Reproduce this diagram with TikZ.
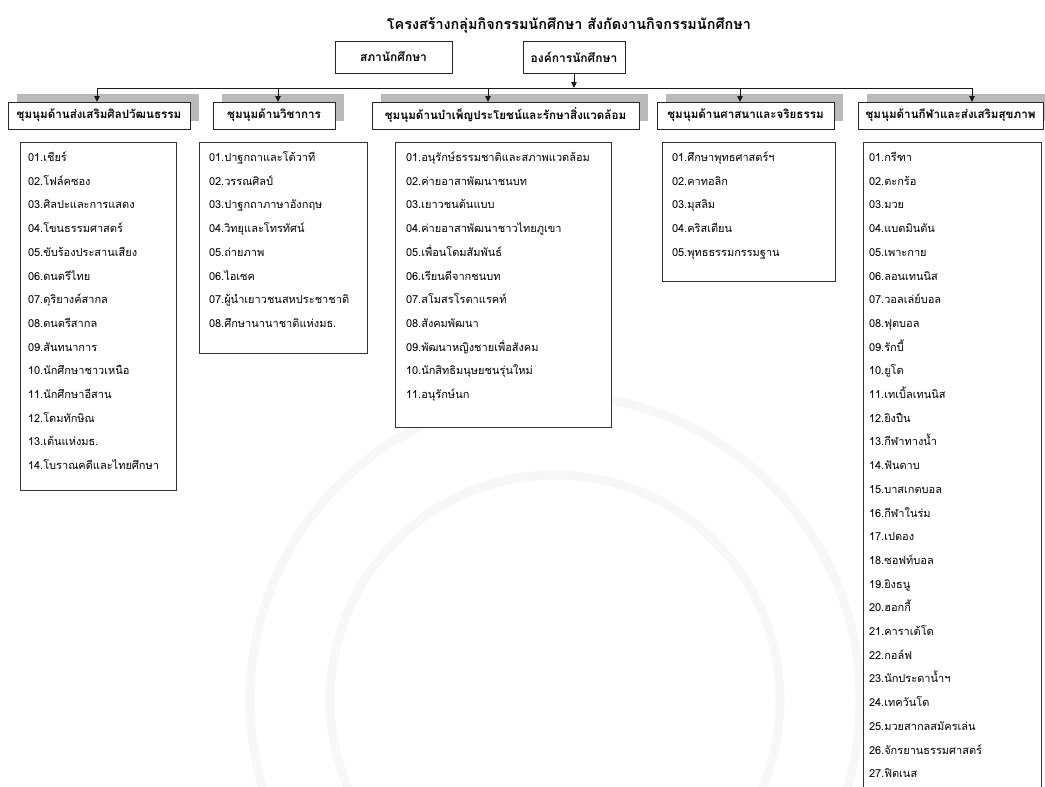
\documentclass[tikz,border=0pt]{standalone}
\usepackage{fontspec}
\newfontfamily\thai[Script=Thai]{Loma}
\usetikzlibrary{arrows.meta,shadows}

\begin{document}
\begin{tikzpicture}[x=1pt,y=-1pt,
  font=\thai,
  every node/.style={inner sep=0pt, outer sep=0pt},
  topbox/.style={draw=black!85, line width=0.8pt, fill=white,
    minimum height=32pt, font=\thai\bfseries\fontsize{12}{14}\selectfont},
  headbox/.style={draw=black!85, line width=0.8pt, fill=white,
    minimum height=27pt, font=\thai\bfseries\fontsize{11.6}{13}\selectfont,
    general shadow={fill=black!27, shadow xshift=9pt, shadow yshift=8pt}},
  listbox/.style={draw=black!80, line width=0.8pt, anchor=north west},
  item/.style={anchor=base west, font=\thai\fontsize{11}{13}\selectfont, text=black},
  link/.style={line width=0.8pt, draw=black!90},
  tip/.style={link, -{Triangle[length=6pt,width=5.5pt]}},
  seal/.style={draw=black!3, line width=9pt}
]
\useasboundingbox (0,0) rectangle (1045,787);
\clip (0,0) rectangle (1045,787);

% faint background seal
\draw[seal] (555,700) circle[radius=305];
\draw[seal] (555,700) circle[radius=225];

% title
\node (title) at (569,25) {\bfseries\fontsize{14.4}{17}\selectfont โครงสร้างกลุ่มกิจกรรมนักศึกษา สังกัดงานกิจกรรมนักศึกษา};

% council and student organisation
\node[topbox, minimum width=117pt] (sapa) at (393.5,57) {สภานักศึกษา};
\node[topbox, minimum width=102pt] (org) at (574,57) {องค์การนักศึกษา};

% club group headers
\node[headbox, minimum width=182pt] (h1) at (99,115.5) {ชุมนุมด้านส่งเสริมศิลปวัฒนธรรม};
\node[headbox, minimum width=122pt] (h2) at (274,115.5) {ชุมนุมด้านวิชาการ};
\node[headbox, minimum width=267pt] (h3) at (505.5,115.5) {ชุมนุมด้านบำเพ็ญประโยชน์และรักษาสิ่งแวดล้อม};
\node[headbox, minimum width=177pt] (h4) at (745.5,115.5) {ชุมนุมด้านศาสนาและจริยธรรม};
\node[headbox, minimum width=185pt] (h5) at (950.5,115.5) {ชุมนุมด้านกีฬาและส่งเสริมสุขภาพ};

% distribution bus
\coordinate (b1) at (97,88);
\coordinate (b2) at (278,88);
\coordinate (b3) at (488,88);
\coordinate (b4) at (740,88);
\coordinate (b5) at (972,88);
\draw[link] (b1) -- (b5);
\draw[tip] (org.south) -- (org.south |- b1);
\foreach \i in {1,...,5} \draw[tip] (b\i) -- (b\i |- h\i.north);

% club lists
\node[listbox, fill=white, minimum width=156pt, minimum height=348pt] (l1) at (20,142) {};
\node[listbox, fill=white, minimum width=168pt, minimum height=211pt] (l2) at (199,142) {};
\node[listbox, fill=white, minimum width=216pt, minimum height=285pt] (l3) at (395,142) {};
\node[listbox, fill=white, minimum width=173pt, minimum height=139pt] (l4) at (662,142) {};
\node[listbox, fill=white, minimum width=178pt, minimum height=700pt] (l5) at (863,142) {};

\foreach [count=\n] \t in {01.เชียร์, 02.โฟล์คซอง, 03.ศิลปะและการแสดง, 04.โขนธรรมศาสตร์,
  05.ขับร้องประสานเสียง, 06.ดนตรีไทย, 07.ดุริยางค์สากล, 08.ดนตรีสากล, 09.สันทนาการ,
  10.นักศึกษาชาวเหนือ, 11.นักศึกษาอีสาน, 12.โดมทักษิณ, 13.เต้นแห่งมธ., 14.โบราณคดีและไทยศึกษา}
  \node[item] (a\n) at ([xshift=8pt, yshift={-19.5pt-23.7pt*(\n-1)}]l1.north west) {\t};

\foreach [count=\n] \t in {01.ปาฐกถาและโต้วาที, 02.วรรณศิลป์, 03.ปาฐกถาภาษาอังกฤษ,
  04.วิทยุและโทรทัศน์, 05.ถ่ายภาพ, 06.ไอเซค, 07.ผู้นำเยาวชนสหประชาชาติ, 08.ศึกษานานาชาติแห่งมธ.}
  \node[item] (c\n) at ([xshift=10pt, yshift={-19.5pt-23.7pt*(\n-1)}]l2.north west) {\t};

\foreach [count=\n] \t in {01.อนุรักษ์ธรรมชาติและสภาพแวดล้อม, 02.ค่ายอาสาพัฒนาชนบท, 03.เยาวชนต้นแบบ,
  04.ค่ายอาสาพัฒนาชาวไทยภูเขา, 05.เพื่อนโดมสัมพันธ์, 06.เรียนดีจากชนบท, 07.สโมสรโรตาแรคท์,
  08.สังคมพัฒนา, 09.พัฒนาหญิงชายเพื่อสังคม, 10.นักสิทธิมนุษยชนรุ่นใหม่, 11.อนุรักษ์นก}
  \node[item] (s\n) at ([xshift=11pt, yshift={-19.5pt-23.7pt*(\n-1)}]l3.north west) {\t};

\foreach [count=\n] \t in {01.ศึกษาพุทธศาสตร์ฯ, 02.คาทอลิก, 03.มุสลิม, 04.คริสเตียน, 05.พุทธธรรมกรรมฐาน}
  \node[item] (r\n) at ([xshift=10pt, yshift={-19.5pt-23.7pt*(\n-1)}]l4.north west) {\t};

\foreach [count=\n] \t in {01.กรีฑา, 02.ตะกร้อ, 03.มวย, 04.แบดมินตัน, 05.เพาะกาย, 06.ลอนเทนนิส,
  07.วอลเล่ย์บอล, 08.ฟุตบอล, 09.รักบี้, 10.ยูโด, 11.เทเบิ้ลเทนนิส, 12.ยิงปืน, 13.กีฬาทางน้ำ,
  14.ฟันดาบ, 15.บาสเกตบอล, 16.กีฬาในร่ม, 17.เปตอง, 18.ซอฟท์บอล, 19.ยิงธนู, 20.ฮอกกี้,
  21.คาราเต้โด, 22.กอล์ฟ, 23.นักประดาน้ำฯ, 24.เทควันโด, 25.มวยสากลสมัครเล่น,
  26.จักรยานธรรมศาสตร์, 27.ฟิตเนส}
  \node[item] (k\n) at ([xshift=6pt, yshift={-19.5pt-23.7pt*(\n-1)}]l5.north west) {\t};
\end{tikzpicture}
\end{document}
